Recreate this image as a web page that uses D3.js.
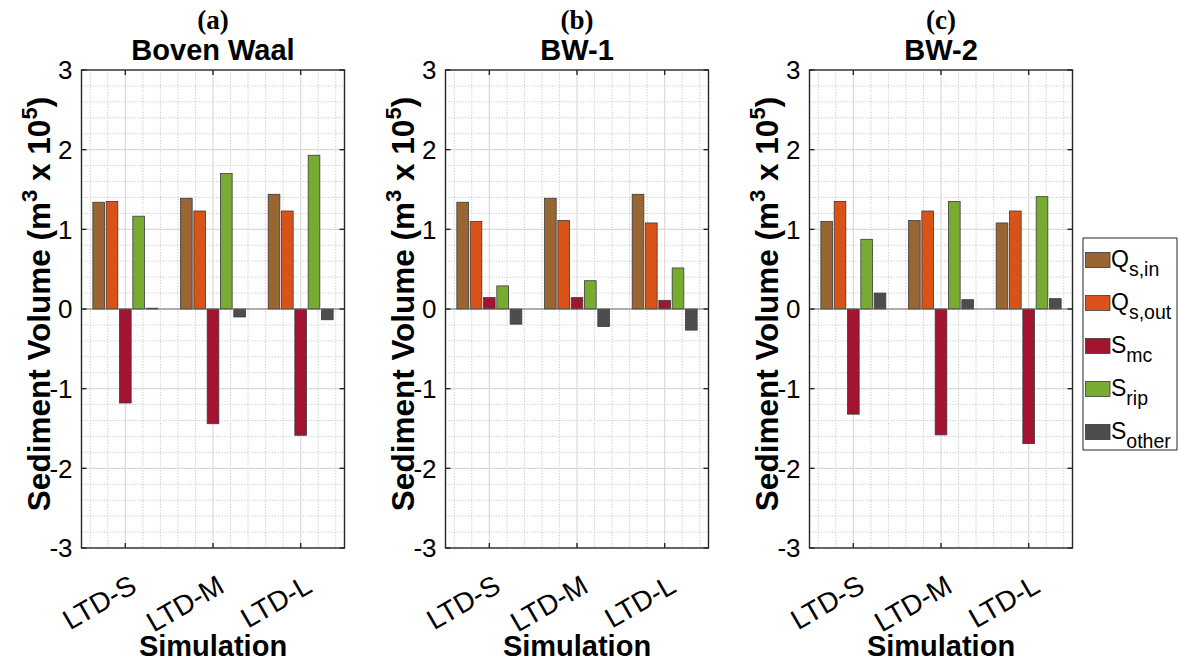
<!DOCTYPE html>
<html>
<head>
<meta charset="utf-8">
<script src="https://cdn.jsdelivr.net/npm/d3@7"></script>
<style>
  html, body { margin: 0; padding: 0; background: #fff; }
  svg { display: block; font-family: "Liberation Sans", Arial, Helvetica, sans-serif; }
</style>
</head>
<body>
<svg id="chart" width="1184" height="664"></svg>
<script>
// Simulation scenarios on the x axis
const categories = ["LTD-S", "LTD-M", "LTD-L"];

// Sub-reaches, one panel each
const panelTitles = ["Boven Waal", "BW-1", "BW-2"];
const panelTags = ["(a)", "(b)", "(c)"];

// Sediment budget terms (m^3 x 10^5), one row per panel, one value per scenario
const qsIn    = [[1.34, 1.39, 1.44], [1.34, 1.39, 1.44], [1.10, 1.11, 1.08]];
const qsOut   = [[1.35, 1.23, 1.23], [1.10, 1.11, 1.08], [1.35, 1.23, 1.23]];
const sMc     = [[-1.18, -1.44, -1.585], [0.143, 0.143, 0.109], [-1.32, -1.58, -1.69]];
const sRip    = [[1.165, 1.70, 1.93], [0.29, 0.355, 0.515], [0.875, 1.35, 1.41]];
const sOther  = [[0.01, -0.10, -0.135], [-0.19, -0.22, -0.265], [0.20, 0.117, 0.13]];

// Legend entries: main symbol + subscript
const seriesSymbols = ["Q", "Q", "S", "S", "S"];
const seriesSubs = ["s,in", "s,out", "mc", "rip", "other"];
const seriesColors = ["#996633", "#D95319", "#A2142F", "#77AC30", "#4D4D4D"];

const yTicks = [-3, -2, -1, 0, 1, 2, 3];

const seriesData = [qsIn, qsOut, sMc, sRip, sOther];
const seriesKeys = d3.range(seriesData.length);

const svg = d3.select("#chart");
svg.append("rect").attr("width", 1184).attr("height", 664).attr("fill", "#fff");

const panelLefts = [81.5, 445.5, 809.5];
const panelWidth = 263;
const plotTop = 70, plotBottom = 548;

const y = d3.scaleLinear().domain([-3, 3]).range([plotBottom, plotTop]);
const inner = d3.scaleBand().domain(seriesKeys).range([-0.3705, 0.3705]).paddingInner(0.125).paddingOuter(0);

const minorX = d3.range(0.6, 3.41, 0.2).filter(v => Math.abs(v - Math.round(v)) > 1e-6);
const minorY = d3.range(-2.8, 2.81, 0.2).filter(v => Math.abs(v - Math.round(v)) > 1e-6);

panelTitles.forEach((title, p) => {
  const left = panelLefts[p];
  const x = d3.scaleLinear().domain([0.5, 3.5]).range([left, left + panelWidth]);
  const g = svg.append("g");
  const cx = left + panelWidth / 2;

  // minor grid (dotted)
  const minor = g.append("g").attr("stroke", "#c8c8c8").attr("stroke-width", 1)
    .attr("stroke-dasharray", "1.2,1.6").attr("fill", "none");
  minor.selectAll("line.vx").data(minorX).join("line")
    .attr("x1", d => x(d)).attr("x2", d => x(d)).attr("y1", plotTop).attr("y2", plotBottom);
  minor.selectAll("line.hy").data(minorY).join("line")
    .attr("x1", left).attr("x2", left + panelWidth).attr("y1", d => y(d)).attr("y2", d => y(d));

  // major grid (solid)
  const major = g.append("g").attr("stroke", "#dadada").attr("stroke-width", 1.2);
  major.selectAll("line.mx").data([1, 2, 3]).join("line")
    .attr("x1", d => x(d)).attr("x2", d => x(d)).attr("y1", plotTop).attr("y2", plotBottom);
  major.selectAll("line.my").data([-2, -1, 1, 2]).join("line")
    .attr("x1", left).attr("x2", left + panelWidth).attr("y1", d => y(d)).attr("y2", d => y(d));

  // bars
  seriesKeys.forEach(s => {
    const vals = seriesData[s][p];
    g.append("g").selectAll("rect").data(vals).join("rect")
      .attr("x", (d, i) => x(i + 1 + inner(s)))
      .attr("width", x(inner.bandwidth()) - x(0))
      .attr("y", d => y(Math.max(0, d)))
      .attr("height", d => Math.abs(y(d) - y(0)))
      .attr("fill", seriesColors[s])
      .attr("stroke", "#3a3a3a").attr("stroke-width", 0.8);
  });

  // bar baseline
  g.append("line").attr("x1", left).attr("x2", left + panelWidth)
    .attr("y1", y(0)).attr("y2", y(0)).attr("stroke", "#606060").attr("stroke-width", 1.2);

  // axes box
  g.append("rect").attr("x", left).attr("y", plotTop).attr("width", panelWidth).attr("height", plotBottom - plotTop)
    .attr("fill", "none").attr("stroke", "#262626").attr("stroke-width", 1.4);

  // inward ticks
  const tk = g.append("g").attr("stroke", "#262626").attr("stroke-width", 1.4);
  yTicks.forEach(v => {
    tk.append("line").attr("x1", left).attr("x2", left + 5).attr("y1", y(v)).attr("y2", y(v));
    tk.append("line").attr("x1", left + panelWidth).attr("x2", left + panelWidth - 5).attr("y1", y(v)).attr("y2", y(v));
  });
  [1, 2, 3].forEach(v => {
    tk.append("line").attr("x1", x(v)).attr("x2", x(v)).attr("y1", plotBottom).attr("y2", plotBottom - 5);
    tk.append("line").attr("x1", x(v)).attr("x2", x(v)).attr("y1", plotTop).attr("y2", plotTop + 5);
  });

  // y tick labels
  g.selectAll("text.yt").data(yTicks).join("text")
    .attr("x", left - 9).attr("y", d => y(d)).attr("dy", "0.36em")
    .attr("text-anchor", "end").attr("font-size", 26).attr("fill", "#000")
    .text(d => d);

  // x tick labels (rotated)
  g.selectAll("text.xt").data(categories).join("text")
    .attr("transform", (d, i) => `translate(${x(i + 1) + 13},591) rotate(-30)`)
    .attr("text-anchor", "end").attr("font-size", 28).attr("fill", "#000")
    .text(d => d);

  // x axis label
  g.append("text").attr("x", cx).attr("y", 656).attr("text-anchor", "middle")
    .attr("font-size", 29).attr("font-weight", "bold").text("Simulation");

  // y axis label
  const yl = g.append("text")
    .attr("transform", `translate(${left - 32},304) rotate(-90)`)
    .attr("text-anchor", "middle").attr("font-size", 31.5).attr("font-weight", "bold");
  yl.append("tspan").text("Sediment Volume (m");
  yl.append("tspan").attr("font-size", 22).attr("dy", -13).text("3");
  yl.append("tspan").attr("dy", 13).text(" x 10");
  yl.append("tspan").attr("font-size", 22).attr("dy", -13).text("5");
  yl.append("tspan").attr("dy", 13).text(")");

  // titles
  g.append("text").attr("x", cx).attr("y", 60).attr("text-anchor", "middle")
    .attr("font-size", 29).attr("font-weight", "bold").text(title);
  g.append("text").attr("x", cx).attr("y", 29).attr("text-anchor", "middle")
    .attr("font-family", "'Liberation Serif', 'DejaVu Serif', serif")
    .attr("font-size", 27).attr("font-weight", "bold").text(panelTags[p]);
});

// legend
const lg = svg.append("g");
lg.append("rect").attr("x", 1083).attr("y", 238).attr("width", 94).attr("height", 212)
  .attr("fill", "#fff").attr("stroke", "#262626").attr("stroke-width", 1);
const ly = d3.scalePoint().domain(seriesKeys).range([260, 432]);
seriesKeys.forEach(s => {
  const cy = ly(s);
  lg.append("rect").attr("x", 1085.5).attr("y", cy - 7.5).attr("width", 24.5).attr("height", 15)
    .attr("fill", seriesColors[s]).attr("stroke", "#3a3a3a").attr("stroke-width", 0.8);
  const t = lg.append("text").attr("x", 1111).attr("y", cy + 7).attr("font-size", 23).attr("fill", "#000");
  t.append("tspan").text(seriesSymbols[s]);
  t.append("tspan").attr("font-size", 19.5).attr("dy", 9).text(seriesSubs[s]);
});
</script>
</body>
</html>
